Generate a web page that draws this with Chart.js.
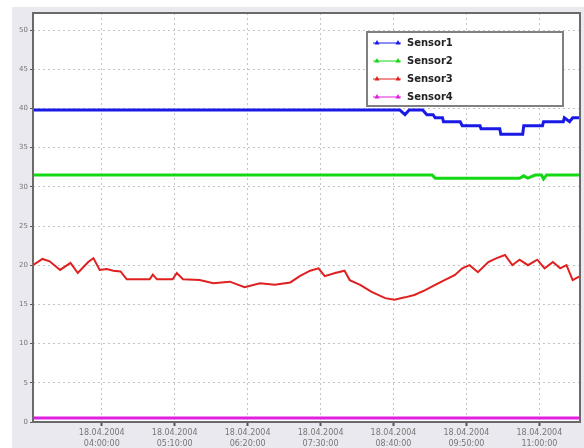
<!DOCTYPE html>
<html lang="en">
  <head>
    <title>Sensors</title>
    <style>
      body { margin: 0; background: #fff; }
      canvas { display: block; }
    </style>
  </head>
  <body>
    <canvas id="chart" width="584" height="448"></canvas>
    <script src="https://cdn.jsdelivr.net/npm/chart.js"></script>
    <script>
      // minutes since 02:54:00 on 18.04.2004
      let tickMinutes = [66, 136, 206, 276, 346, 416, 486];
      let tickLabels = [
        ["18.04.2004", "04:00:00"],
        ["18.04.2004", "05:10:00"],
        ["18.04.2004", "06:20:00"],
        ["18.04.2004", "07:30:00"],
        ["18.04.2004", "08:40:00"],
        ["18.04.2004", "09:50:00"],
        ["18.04.2004", "11:00:00"],
      ];
      let yTicks = [0, 5, 10, 15, 20, 25, 30, 35, 40, 45, 50];

      let sensor1Time = [0, 352, 357, 361, 374, 378, 384, 386, 393, 394, 410, 412, 429, 430, 448, 449, 470, 471, 489, 490, 509, 510, 515, 518, 525];
      let sensor1Vals = [39.8, 39.8, 39.2, 39.8, 39.8, 39.2, 39.2, 38.8, 38.8, 38.3, 38.3, 37.8, 37.8, 37.4, 37.4, 36.7, 36.7, 37.8, 37.8, 38.3, 38.3, 38.8, 38.3, 38.8, 38.8];

      let sensor2Time = [0, 383, 386, 467, 471, 475, 482, 488, 490, 493, 525];
      let sensor2Vals = [31.5, 31.5, 31.1, 31.1, 31.4, 31.1, 31.5, 31.5, 31.0, 31.5, 31.5];

      let sensor3Time = [0, 9, 16, 26, 36, 43, 53, 58, 64, 71, 77, 84, 90, 112, 115, 119, 134, 138, 144, 160,
        173, 189, 203, 218, 232, 247, 256, 266, 274, 280, 290, 299, 304, 314, 325, 338, 347, 357, 366, 376,
        386, 395, 405, 412, 419, 427, 437, 445, 453, 460, 467, 475, 484, 491, 499, 506, 512, 518, 525];
      let sensor3Vals = [20.0, 20.8, 20.5, 19.4, 20.3, 19.0, 20.4, 20.9, 19.4, 19.5, 19.3, 19.2, 18.2, 18.2, 18.8, 18.2, 18.2, 19.0, 18.2, 18.1,
        17.7, 17.9, 17.2, 17.7, 17.5, 17.8, 18.6, 19.3, 19.6, 18.6, 19.0, 19.3, 18.1, 17.5, 16.6, 15.8, 15.6, 15.9, 16.2, 16.8,
        17.5, 18.1, 18.75, 19.6, 20.0, 19.1, 20.4, 20.9, 21.3, 20.0, 20.7, 20.0, 20.7, 19.6, 20.4, 19.6, 20.0, 18.1, 18.6];

      let sensor4Time = [0, 525];
      let sensor4Vals = [0.5, 0.5];

      let seriesNames = ["Sensor1", "Sensor2", "Sensor3", "Sensor4"];
      let seriesColors = ["#1a1ae6", "#14d814", "#e02020", "#e020e0"];

      let toPoints = function (times, vals) {
        return times.map((t, i) => ({ x: t, y: vals[i] }));
      };

      let frame = {
        id: "frame",
        beforeDraw(chart) {
          let ctx = chart.ctx;
          let a = chart.chartArea;
          ctx.save();
          ctx.fillStyle = "#ffffff";
          ctx.fillRect(0, 0, chart.width, chart.height);
          ctx.fillStyle = "#e9e9ef";
          ctx.fillRect(12, 7, chart.width - 12, chart.height - 7);
          ctx.fillStyle = "#ffffff";
          ctx.fillRect(a.left, a.top, a.right - a.left, a.bottom - a.top);
          ctx.restore();
        },
        afterDraw(chart) {
          let ctx = chart.ctx;
          let a = chart.chartArea;
          ctx.save();
          ctx.strokeStyle = "#6a6a6a";
          ctx.lineWidth = 2;
          ctx.strokeRect(a.left, a.top, a.right - a.left, a.bottom - a.top);

          // legend box
          let lx = 367, ly = 32, lw = 196, lh = 74;
          ctx.fillStyle = "#ffffff";
          ctx.fillRect(lx, ly, lw, lh);
          ctx.strokeStyle = "#808080";
          ctx.lineWidth = 2;
          ctx.strokeRect(lx, ly, lw, lh);
          ctx.font = "bold 10px 'DejaVu Sans'";
          ctx.textBaseline = "middle";
          chart.data.datasets.forEach((ds, i) => {
            let y = ly + 11 + i * 18;
            ctx.strokeStyle = ds.borderColor;
            ctx.fillStyle = ds.borderColor;
            ctx.lineWidth = 1;
            ctx.beginPath();
            ctx.moveTo(lx + 6, y);
            ctx.lineTo(lx + 34, y);
            ctx.stroke();
            [lx + 10, lx + 31].forEach((tx) => {
              ctx.beginPath();
              ctx.moveTo(tx, y - 3);
              ctx.lineTo(tx - 2.5, y + 1.5);
              ctx.lineTo(tx + 2.5, y + 1.5);
              ctx.closePath();
              ctx.fill();
            });
            ctx.fillStyle = "#222";
            ctx.fillText(ds.label, lx + 40, y);
          });
          ctx.restore();
        },
      };

      new Chart(document.getElementById("chart"), {
        type: "line",
        data: {
          datasets: [
            { label: seriesNames[0], data: toPoints(sensor1Time, sensor1Vals), borderColor: seriesColors[0], borderWidth: 3 },
            { label: seriesNames[1], data: toPoints(sensor2Time, sensor2Vals), borderColor: seriesColors[1], borderWidth: 3 },
            { label: seriesNames[2], data: toPoints(sensor3Time, sensor3Vals), borderColor: seriesColors[2], borderWidth: 2 },
            { label: seriesNames[3], data: toPoints(sensor4Time, sensor4Vals), borderColor: seriesColors[3], borderWidth: 3 },
          ],
        },
        options: {
          responsive: false,
          animation: false,
          devicePixelRatio: 1,
          elements: { point: { radius: 0 }, line: { tension: 0, fill: false } },
          layout: { padding: { top: 13, right: 4, left: 0, bottom: 0 } },
          plugins: { legend: { display: false }, tooltip: { enabled: false } },
          scales: {
            x: {
              type: "linear",
              min: 0,
              max: 525,
              afterBuildTicks: (s) => { s.ticks = tickMinutes.map((v) => ({ value: v })); },
              afterFit: (s) => { s.height = 26; },
              ticks: {
                autoSkip: false,
                maxRotation: 0,
                padding: 2,
                color: "#777",
                font: { family: "DejaVu Sans", size: 8, lineHeight: 1.35 },
                callback: (v, i) => tickLabels[i],
              },
              grid: { color: "#c4c4c4", tickColor: "#555", tickLength: 4, tickWidth: 2 },
              border: { display: false, dash: [2, 3] },
            },
            y: {
              min: 0,
              max: 52.17,
              afterBuildTicks: (s) => { s.ticks = yTicks.map((v) => ({ value: v })); },
              afterFit: (s) => { s.width = 33; },
              ticks: {
                padding: 2,
                color: "#777",
                font: { family: "DejaVu Sans", size: 7 },
              },
              grid: { color: "#c4c4c4", tickColor: "#555", tickLength: 3 },
              border: { display: false, dash: [2, 3] },
            },
          },
        },
        plugins: [frame],
      });
    </script>
  </body>
</html>
